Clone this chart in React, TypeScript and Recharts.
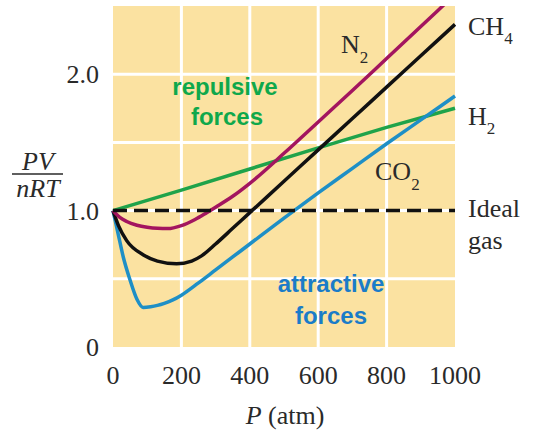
import React from "react";
import { LineChart, Line, XAxis, YAxis, CartesianGrid, ReferenceLine } from "recharts";

const pressureN2 = [0, 20, 40, 70, 100, 130, 160, 200, 240, 274, 300, 350, 400, 500, 600, 700, 800, 900, 1000];
const n2Values = [1.0, 0.95, 0.92, 0.893, 0.878, 0.87, 0.868, 0.89, 0.935, 0.985, 1.025, 1.105, 1.2, 1.42, 1.65, 1.88, 2.115, 2.35, 2.585];
const pressureCH4 = [0, 16, 40, 89, 130, 186, 230, 260, 300, 350, 400, 500, 600, 700, 800, 900, 1000];
const ch4Values = [1.0, 0.89, 0.78, 0.675, 0.63, 0.61, 0.63, 0.67, 0.755, 0.87, 0.985, 1.215, 1.445, 1.675, 1.905, 2.135, 2.365];
const pressureCO2 = [0, 15, 30, 50, 70, 88, 110, 130, 150, 175, 200, 250, 300, 350, 400, 500, 600, 700, 800, 900, 1000];
const co2Values = [1.0, 0.83, 0.66, 0.49, 0.35, 0.29, 0.295, 0.305, 0.32, 0.345, 0.38, 0.47, 0.565, 0.66, 0.755, 0.945, 1.13, 1.31, 1.49, 1.665, 1.84];
const pressureH2 = [0, 200, 400, 600, 800, 1000];
const h2Values = [1.0, 1.15, 1.305, 1.46, 1.61, 1.75];

const xTicks = [0, 200, 400, 600, 800, 1000];
const yTicks = [0, 1, 2];
const gridX = [200, 400, 600, 800];
const gridY = [0.5, 1, 1.5, 2];

const toData = (ps: number[], vs: number[]) => ps.map((p, i) => ({ p, z: vs[i] }));
const n2Data = toData(pressureN2, n2Values);
const ch4Data = toData(pressureCH4, ch4Values);
const co2Data = toData(pressureCO2, co2Values);
const h2Data = toData(pressureH2, h2Values);

const SERIF = "'Liberation Serif', 'Times New Roman', serif";
const SANS = "'Liberation Sans', Arial, sans-serif";

export default function App() {
  return (
    <div style={{ position: "absolute", left: 0, top: 0, width: 536, height: 434, background: "#fff" }}>
      <LineChart width={536} height={434} margin={{ top: 6, right: 81, bottom: 0, left: 0 }}>
        <CartesianGrid
          fill="#FBE2A1"
          stroke="#FFFFFF"
          strokeWidth={3}
          horizontalValues={gridY}
          verticalValues={gridX}
        />
        <XAxis
          dataKey="p"
          type="number"
          domain={[0, 1000]}
          ticks={xTicks}
          height={87}
          axisLine={false}
          tickLine={false}
          tickSize={0}
          tickMargin={19}
          interval={0}
          allowDuplicatedCategory={false}
          tick={{ fontFamily: SERIF, fontSize: 26, fill: "#2a2a2a" }}
        />
        <YAxis
          type="number"
          domain={[0, 2.5]}
          ticks={yTicks}
          width={113}
          allowDataOverflow
          axisLine={false}
          tickLine={false}
          tickSize={0}
          tickMargin={14}
          interval={0}
          tickFormatter={(v: number) => (v === 0 ? "0" : v.toFixed(1))}
          tick={{ fontFamily: SERIF, fontSize: 26, fill: "#2a2a2a" }}
        />
        <Line data={h2Data} dataKey="z" type="linear" stroke="#1FA34A" strokeWidth={3.5} dot={false} isAnimationActive={false} />
        <Line data={co2Data} dataKey="z" type="monotone" stroke="#1E8FC6" strokeWidth={3.5} dot={false} isAnimationActive={false} />
        <Line data={ch4Data} dataKey="z" type="monotone" stroke="#111111" strokeWidth={3.5} dot={false} isAnimationActive={false} />
        <Line data={n2Data} dataKey="z" type="monotone" stroke="#A3155F" strokeWidth={3.5} dot={false} isAnimationActive={false} />
        <ReferenceLine y={1} stroke="#111111" strokeWidth={3.5} strokeDasharray="14 7" />
      </LineChart>
      <svg width={536} height={434} style={{ position: "absolute", left: 0, top: 0, pointerEvents: "none" }}>
        <g fontFamily={SERIF} fill="#2a2a2a" fontSize={26}>
          <text x={468} y={35}>CH<tspan fontSize={17} dy={9}>4</tspan></text>
          <text x={341} y={53}>N<tspan fontSize={17} dy={10}>2</tspan></text>
          <text x={468} y={125}>H<tspan fontSize={17} dy={9}>2</tspan></text>
          <text x={375} y={180}>CO<tspan fontSize={17} dy={10}>2</tspan></text>
          <text x={468} y={217}>Ideal</text>
          <text x={468} y={249}>gas</text>
          <text x={38} y={170} textAnchor="middle" fontStyle="italic">PV</text>
          <line x1={12} x2={63} y1={174} y2={174} stroke="#2a2a2a" strokeWidth={1.5} />
          <text x={38} y={197} textAnchor="middle" fontStyle="italic">nRT</text>
          <text x={285} y={424} textAnchor="middle"><tspan fontStyle="italic">P</tspan> (atm)</text>
        </g>
        <g fontFamily={SANS} fontWeight="bold" fontSize={24} textAnchor="middle">
          <text x={225} y={95} fill="#0FA84B">repulsive</text>
          <text x={227} y={125} fill="#0FA84B">forces</text>
          <text x={331} y={292} fill="#1A7CC8">attractive</text>
          <text x={331} y={324} fill="#1A7CC8">forces</text>
        </g>
      </svg>
    </div>
  );
}
